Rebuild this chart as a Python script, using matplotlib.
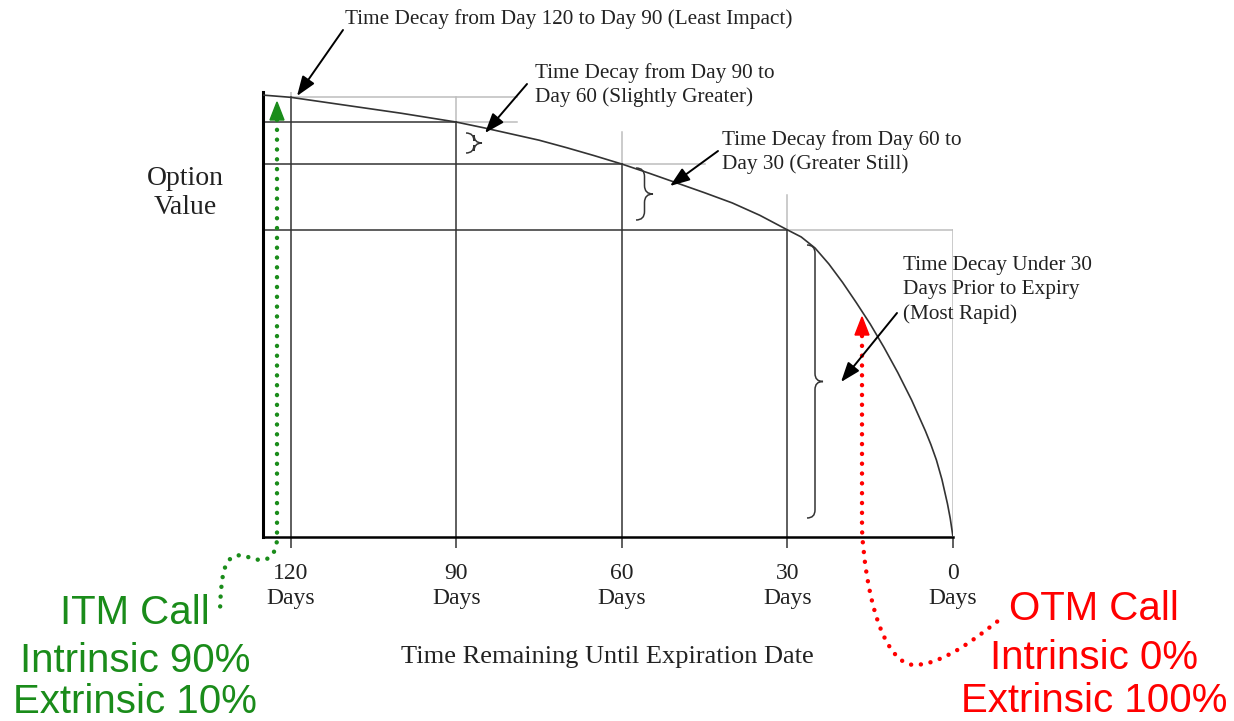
import matplotlib
matplotlib.use("Agg")
import matplotlib.pyplot as plt
import numpy as np
from matplotlib.path import Path
from matplotlib.patches import PathPatch, Polygon

# valores (dias restantes -> valor de la opcion, 0-100)
dias = [125, 120, 115, 110, 105, 100, 95, 90, 85, 80, 75, 70, 65, 60, 55, 50, 45, 40, 35,
        30, 27.5, 25, 22.5, 20, 17.5, 15, 12.5, 10, 7.5, 5, 4, 3, 2, 1, 0.5, 0]
valor = [100, 99.5, 98.6, 97.7, 96.8, 95.9, 94.9, 93.9, 92.6, 91.2, 89.8, 88.1, 86.3, 84.4,
         82.3, 80.1, 77.9, 75.6, 72.8, 69.5, 67.9, 65.4, 61.8, 57.6, 53.0, 48.2, 42.9, 37.2,
         31.0, 24.0, 20.9, 17.4, 13.0, 7.5, 4.2, 0]

dias_marca = [120, 90, 60, 30, 0]
valor_marca = [99.5, 93.9, 84.4, 69.5, 0]
tope_gris = [100.7, 99.5, 91.6, 77.4, 69.5]     # hasta donde sube la linea gris vertical
fin_gris = [78.9, 78.9, 45, 0, None]            # hasta donde llega la linea gris horizontal
etiquetas = ["120\nDays", "90\nDays", "60\nDays", "30\nDays", "0\nDays"]

itm_lineas = ["ITM Call", "Intrinsic 90%", "Extrinsic 10%"]
otm_lineas = ["OTM Call", "Intrinsic 0%", "Extrinsic 100%"]

SERIF = "Liberation Serif"
SANS = "Liberation Sans"
VERDE = "#1a8c1a"
ROJO = "#ff0000"
OSCURO = "#333333"
GRIS = "#bdbdbd"

W, H = 1234, 721
fig = plt.figure(figsize=(W / 100, H / 100), dpi=100)
ax = fig.add_axes([263 / W, (H - 537) / H, (953 - 263) / W, (537 - 92) / H])
ax.set_xlim(125, 0)
ax.set_ylim(0, 100.7)

# lineas guia
for d, v, top, fin in zip(dias_marca, valor_marca, tope_gris, fin_gris):
    if d != 0:
        ax.plot([d, d], [0, v], color=OSCURO, lw=1.1, zorder=2)
        if d != 120:
            ax.plot([125, d], [v, v], color=OSCURO, lw=1.1, zorder=2)
    ax.plot([d, d], [v, top], color=GRIS, lw=1.1, zorder=1)
    if fin is not None:
        ax.plot([d, fin], [v, v], color=GRIS, lw=1.1, zorder=1)

ax.plot(dias, valor, color=OSCURO, lw=1.2, zorder=3, solid_joinstyle="round")

for s in ["top", "right"]:
    ax.spines[s].set_visible(False)
ax.spines["left"].set_linewidth(2.2)
ax.spines["bottom"].set_linewidth(1.8)
ax.set_yticks([])
ax.set_xticks(dias_marca)
ax.set_xticklabels(etiquetas, fontfamily=SERIF, fontsize=17, linespacing=1.2, color="#222222")
ax.tick_params(axis="x", length=8, width=1.1, color=OSCURO, pad=11)
ax.patch.set_alpha(0)

# capa de anotaciones en pixeles
ov = fig.add_axes([0, 0, 1, 1], zorder=5)
ov.set_xlim(0, W)
ov.set_ylim(H, 0)
ov.axis("off")
ov.patch.set_alpha(0)


def llave(x, y0, y1, w):
    ym = (y0 + y1) / 2
    h = w / 2
    verts = [(x, y0), (x + h, y0), (x + h, y0 + h),
             (x + h, ym - h), (x + h, ym), (x + w, ym),
             (x + h, ym), (x + h, ym + h),
             (x + h, y1 - h), (x + h, y1), (x, y1)]
    codes = [Path.MOVETO, Path.CURVE3, Path.CURVE3,
             Path.LINETO, Path.CURVE3, Path.CURVE3,
             Path.CURVE3, Path.CURVE3,
             Path.LINETO, Path.CURVE3, Path.CURVE3]
    ov.add_patch(PathPatch(Path(verts, codes), fill=False, lw=1.1, color=OSCURO))


llave(466, 133, 153, 16)
llave(636, 168, 220, 17)
llave(807, 245, 518, 16)

flecha = dict(arrowstyle="-|>,head_length=0.6,head_width=0.22", color="black", lw=1.4,
              shrinkA=0, shrinkB=0, mutation_scale=20)
ov.annotate("", xy=(297, 96), xytext=(343, 30), arrowprops=flecha)
ov.annotate("", xy=(485, 133), xytext=(527, 84), arrowprops=flecha)
ov.annotate("", xy=(670, 186), xytext=(718, 151), arrowprops=flecha)
ov.annotate("", xy=(841, 382), xytext=(897, 313), arrowprops=flecha)

txt = dict(fontfamily=SERIF, fontsize=15.3, color="#222222", va="center", ha="left",
           linespacing=1.35)
ov.text(345, 19, "Time Decay from Day 120 to Day 90 (Least Impact)", **txt)
ov.text(535, 85, "Time Decay from Day 90 to\nDay 60 (Slightly Greater)", **txt)
ov.text(722, 152, "Time Decay from Day 60 to\nDay 30 (Greater Still)", **txt)
ov.text(903, 290, "Time Decay Under 30\nDays Prior to Expiry\n(Most Rapid)", **txt)
ov.text(185, 193, "Option\nValue", fontfamily=SERIF, fontsize=20, color="#222222",
        ha="center", va="center", linespacing=1.2)
ov.text(607, 657, "Time Remaining Until Expiration Date", fontfamily=SERIF, fontsize=19,
        color="#222222", ha="center", va="center")

# flechas punteadas ITM / OTM
puntos = (0, (0.01, 2.2))
verde = Path([(277, 120), (277, 538), (277, 552), (270, 560), (262, 560),
              (250, 560), (245, 553), (235, 556), (224, 560), (221, 575), (220, 612)],
             [Path.MOVETO, Path.LINETO, Path.CURVE4, Path.CURVE4, Path.CURVE4,
              Path.CURVE4, Path.CURVE4, Path.CURVE4, Path.CURVE4, Path.CURVE4, Path.CURVE4])
ov.add_patch(PathPatch(verde, fill=False, color=VERDE, lw=3.2, linestyle=puntos,
                       capstyle="round"))
ov.add_patch(Polygon([(277, 102), (270, 120), (284, 120)], closed=True, color=VERDE))

rojo = Path([(862, 336), (862, 530), (866, 600), (885, 665), (915, 665),
             (945, 664), (980, 635), (1003, 617)],
            [Path.MOVETO, Path.LINETO, Path.CURVE4, Path.CURVE4, Path.CURVE4,
             Path.CURVE4, Path.CURVE4, Path.CURVE4])
ov.add_patch(PathPatch(rojo, fill=False, color=ROJO, lw=3.2, linestyle=puntos,
                       capstyle="round"))
ov.add_patch(Polygon([(862, 317), (855, 335), (869, 335)], closed=True, color=ROJO))

for linea, y in zip(itm_lineas, [624, 672, 713]):
    ov.text(135, y, linea, fontfamily=SANS, fontsize=29, color=VERDE, ha="center",
            va="baseline")
for linea, y in zip(otm_lineas, [620, 669, 712]):
    ov.text(1094, y, linea, fontfamily=SANS, fontsize=29, color=ROJO, ha="center",
            va="baseline")

fig.savefig("out.png", dpi=100, facecolor="white")
